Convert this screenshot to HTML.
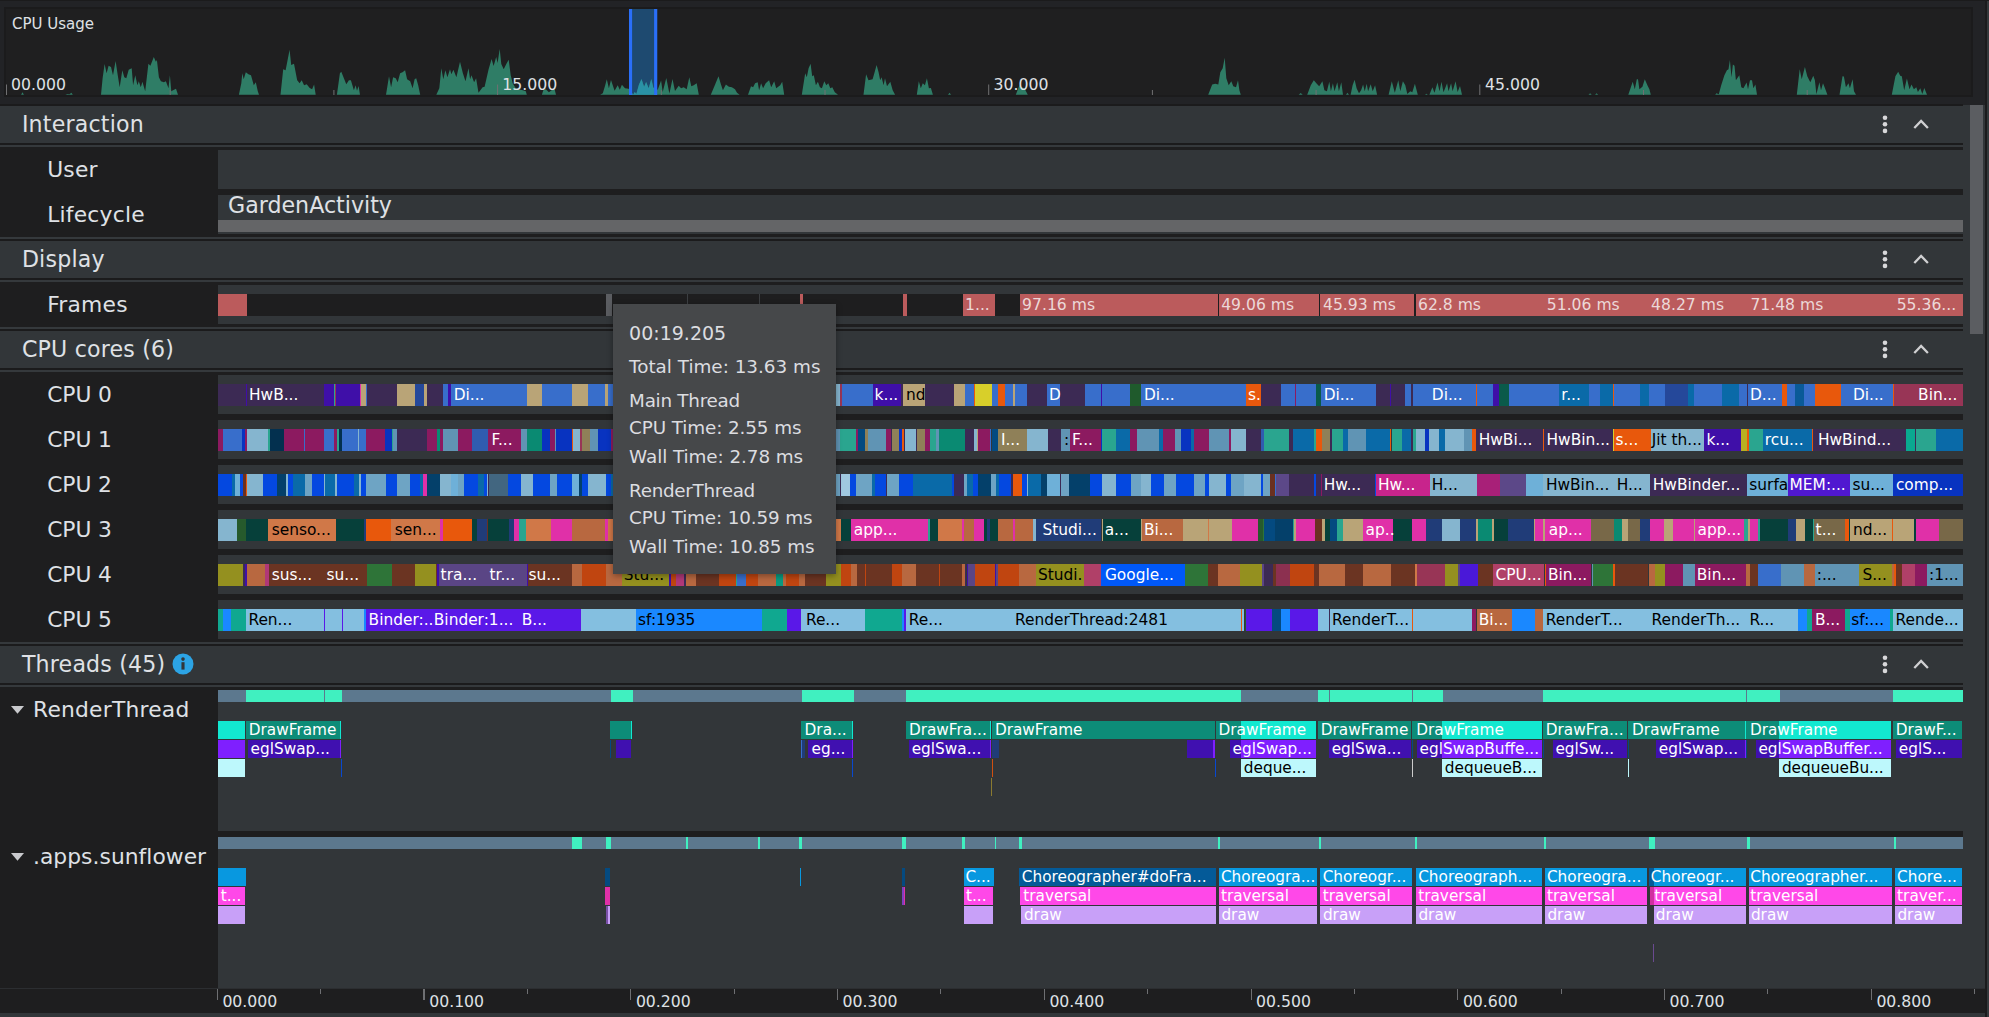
<!DOCTYPE html><html><head><meta charset="utf-8"><title>CPU Profiler</title><style>
*{box-sizing:border-box;margin:0;padding:0}
html,body{width:1989px;height:1017px;overflow:hidden;background:#222326}
body{position:relative;font-family:"DejaVu Sans","Liberation Sans",sans-serif;color:#dfe1e5;font-size:15px}
div,i,b,span,svg{position:absolute;display:block}
i{top:0;height:100%}
b{font-weight:normal;white-space:pre;line-height:22px;height:22px;top:0;font-size:15.4px;color:#fff}
b.k{color:#000}
.hdr{left:0;width:1970px;height:37px;background:#323639}
.hdr span{left:21.9px;top:-.2px;line-height:36px;font-size:22.1px;letter-spacing:.2px;white-space:pre}
.row{left:0;width:1963px;height:45px;background:#1e1e1f}
.row>span{left:47.2px;top:0;transform:translateY(.6px);line-height:44px;font-size:21.8px;letter-spacing:.22px;white-space:pre}
.trk{left:218px;top:3px;width:1745px;height:39px;background:#323639;overflow:hidden}
.bar{left:-218px;top:9px;width:1963px;height:22px}
.ln{left:0;width:1963px;height:2px}
.ic{top:0;left:0}
.tr{left:-218px;width:1963px;height:18px}
.tr b{line-height:18px;height:18px;font-size:15.3px}
.fr b{font-size:15.6px;color:#ecd8d8}
.st{left:-218px;top:0;width:1963px;height:12px}
.ax b{color:#dfe1e5;font-size:15.7px;line-height:20px;height:20px}
.tip{left:612.5px;top:304px;width:223.5px;height:270px;background:#46484a;box-shadow:0 2px 6px rgba(0,0,0,.35)}
.tip span{left:16.6px;white-space:pre;font-size:18.35px;line-height:24px;color:#dcdde0}
</style></head><body>
<div style="left:0;top:0;width:1989px;height:1px;background:#1b1b1c"></div>
<div style="left:4px;top:7px;width:1969px;height:90px;background:#1f1f20;border:2px solid #1b1b1c"></div>
<svg style="left:0;top:0" width="1989" height="100" viewBox="0 0 1989 100">
<defs><clipPath id="sel"><rect x="632" y="9" width="22" height="86"/></clipPath></defs>
<rect x="629" y="9" width="28.2" height="86" fill="#1e4a70"/>
<path fill="#2f7d66" d="M21.1 94.7 L22.5 92.3 L23.9 94.7Z M65.4 94.7 L67.4 93.9 L69.4 94.3 L71.4 92.7 L72.8 94.7Z M101 94.7 L102.6 78.2 L104.6 64.1 L106.6 73.2 L108.6 65.7 L111 67.1 L113 75.2 L115.6 61.1 L117.6 74.2 L119.7 87.3 L122.3 70.2 L124.3 77.2 L126.3 78.2 L128.7 69.8 L131.7 68.2 L133.1 85.2 L135.3 75.2 L137.4 85.2 L138.8 81.2 L140.8 87.3 L142.4 81.8 L145.2 91.3 L148.4 63.7 L150.4 65.7 L153.8 57.1 L155.9 61.7 L156.9 60.1 L158.9 77.2 L160.9 81.2 L163.9 82.2 L165.9 81.2 L168.5 88.3 L169.9 75.2 L171.3 91.3 L173 90.3 L176 88.7 L178 94.7Z M238.9 94.7 L241.3 83.2 L242.3 73.2 L243.7 79.2 L245.8 72.2 L248.4 74.2 L251 75.2 L253.8 85.2 L255.8 82.2 L257.8 91.3 L259 94.7Z M280.5 94.7 L283.2 69.2 L285.6 70.2 L289.6 49.7 L291.2 65.1 L294 63.7 L297.2 80.2 L299.6 83.2 L301.7 80.2 L304.1 85.2 L306.7 84.2 L309.7 87.9 L312.1 89.3 L314.1 84.6 L315.7 94.7Z M336.9 94.7 L339.9 73.2 L341.3 71.8 L343.9 78.2 L346.3 84.2 L348.9 80.2 L350.9 80.2 L353.9 90.3 L355.6 85.2 L357 90.7 L358.6 85.9 L360 94.7Z M386 94.7 L389 76.2 L391.1 87.3 L393.1 77.2 L395.7 78.2 L397.7 82.2 L400.1 73.2 L402.5 72.2 L405.1 70.2 L407.1 79.2 L410.2 81.2 L412.6 88.3 L414.6 79.2 L416.2 78.2 L418.2 85.2 L420.2 94.7Z M436.3 94.7 L439.3 88.3 L441.3 68.2 L443.3 79.2 L445.4 70.2 L447.4 77.2 L450 69.2 L451.4 74.2 L453.4 69.8 L456.4 77.2 L460 61.7 L462.9 73.2 L465.5 81.2 L468.5 68.2 L470.1 79.2 L471.5 75.2 L474.1 82.2 L476.1 78.2 L478.5 92.7 L482.6 87.3 L484.6 86.7 L488.6 69.2 L491.6 59.1 L493.6 66.1 L496.2 57.1 L497.6 63.1 L499.7 49 L501.3 64.1 L503.7 69.2 L506.3 64.1 L508.7 59.7 L510.7 75.2 L512.7 83.2 L515.7 88.3 L518.8 89.3 L522.8 90.3 L525.8 91.3 L526.8 94.7Z M541.9 94.7 L543.3 90.3 L545.9 89.3 L548.9 92.3 L551.9 89.9 L554.6 89.3 L556 94.7Z M600.2 94.7 L602.8 93.3 L605.2 85.2 L606.8 79.2 L608.9 88.3 L611 80 L614.6 90.8 L617.7 85.2 L619.8 89.8 L621.9 84.7 L625 88.3 L628.6 88.8 L633.2 94.5 L634.8 91.9 L636.3 94 L638.9 84.7 L641.5 79 L644.1 86.7 L646.1 82.1 L648.7 88.3 L651.3 79 L653.4 87.8 L657.7 89.8 L661.1 80.5 L662.7 91.9 L666.3 78 L669.4 93.4 L672.5 79 L675 90.9 L678.7 85.7 L681.1 88.3 L683.7 87.3 L686.7 89.3 L689.3 77.2 L691.3 86.3 L693.7 85.2 L696.7 83.2 L698.8 94.7Z M710.8 94.7 L714.8 85.2 L718.5 76.2 L720.9 84.2 L722.9 90.3 L725.9 84.6 L728.9 86.7 L731.9 87.3 L735 89.3 L737 92.7 L739.6 94.7Z M748 94.7 L751 86.3 L753.1 87.3 L755.1 83.2 L757.7 82.2 L759.1 90.3 L761.1 83.2 L763.1 88.3 L765.7 83.2 L769.1 80.2 L771.2 87.3 L774.2 81.2 L776.2 88.3 L780.2 85.2 L782.2 81.8 L784.2 94.7Z M801.8 94.7 L805.2 73.2 L806.8 77.2 L808.6 68.2 L810.6 63.7 L812.2 76.2 L813.8 75.2 L815.9 85.2 L817.9 81.8 L819.9 87.3 L821.9 88.3 L824.3 81.2 L826.3 85.2 L828.3 83.2 L830.3 88.3 L832.3 87.3 L834.8 92.3 L838 94.7Z M863.5 94.7 L866.1 74.2 L868.5 80.2 L872.6 79.2 L874.6 72.2 L876.6 65.1 L878.6 72.2 L880.2 80.2 L881.6 77.2 L883.6 85.2 L885 78.2 L887 86.3 L890.3 81.8 L892.7 90.3 L895.1 94.7Z M916.8 94.7 L918.8 81.2 L920.8 88.3 L922.8 83.2 L924.9 85.2 L926.9 78.2 L928.9 88.3 L930.9 87.9 L932.9 94.7Z M948 94.7 L949.6 92.7 L951 94.7Z M1015.8 94.7 L1019.4 85.2 L1021.8 87.3 L1024.4 88.3 L1027.8 94.7Z M1208.2 94.7 L1212.2 84.6 L1215.2 83.8 L1218.3 84.6 L1220.3 72.2 L1222.7 68.2 L1224.7 57.7 L1226.3 78.2 L1228.7 85.2 L1231.3 81.2 L1233.3 86.3 L1236 87.3 L1238 80.2 L1239.4 90.3 L1240.8 94.7Z M1298.7 94.7 L1300.7 93.1 L1302.7 94.7Z M1307.2 94.7 L1310.8 85.2 L1313.8 80.2 L1316.8 83.8 L1319.2 86.3 L1322.4 81.2 L1324.4 90.3 L1326.9 91.3 L1329.3 81.8 L1330.9 91.3 L1332.9 83.2 L1334.5 91.3 L1337.3 82.2 L1338.9 91.3 L1341.3 82.2 L1343 94.7Z M1346 94.7 L1347.4 92.7 L1349 94.7Z M1350.6 94.7 L1352.6 85.2 L1354.6 79.8 L1356.6 88.3 L1359 93.3 L1361.1 90.3 L1363.1 84.6 L1364.7 91.3 L1366.7 83.8 L1368.1 91.3 L1370.7 84.2 L1372.7 91.3 L1375.1 85.2 L1377.1 94.7Z M1388.6 94.7 L1391.8 81.2 L1394.8 92.7 L1398.3 80.2 L1400.3 91.3 L1402.9 81.2 L1405.3 85.2 L1407.3 93.9 L1410.3 91.3 L1412.3 92.3 L1414.9 83.8 L1417.8 94.7Z M1425 94.7 L1426.4 93.7 L1427.8 94.7Z M1429.4 94.7 L1432.4 87.3 L1434.5 92.7 L1437.5 82.6 L1439.5 91.3 L1441.5 81.8 L1443.5 92.3 L1447.1 83.2 L1448.5 91.3 L1451.1 83.2 L1452.6 91.3 L1455.6 81.2 L1457.6 91.9 L1460 85.9 L1462 94.7Z M1588.5 94.7 L1590.1 93.3 L1591.7 94.7Z M1595.1 94.7 L1596.5 93.3 L1598.2 94.7Z M1628.3 94.7 L1632.7 81.8 L1634.8 89.3 L1636.8 79.2 L1638 79.2 L1639.4 89.3 L1642.4 86.7 L1644.8 79.2 L1647.4 85.2 L1649.4 89.3 L1650.8 94.7Z M1715.2 94.7 L1716.4 93.3 L1718.8 94.3 L1721.2 85.2 L1724.4 75.2 L1726.9 70.2 L1728.5 69.2 L1729.9 60.1 L1731.5 77.2 L1732.9 64.5 L1734.5 65.7 L1735.9 80.2 L1739.3 75.2 L1741.3 87.3 L1743.4 88.3 L1746.6 82.6 L1748 89.3 L1750 80.2 L1752 80.2 L1753.4 88.3 L1755.4 84.6 L1757 94.7Z M1796.8 94.7 L1799.7 69.2 L1801.7 79.2 L1804.9 67.1 L1807.3 76.2 L1810.3 82.2 L1813.3 75.8 L1814.9 80.2 L1816.4 94.3 L1819.4 82.2 L1821 90.3 L1823 83.2 L1825 88.3 L1827.4 94.7Z M1839.5 94.7 L1842.5 76.2 L1843.9 76.6 L1845.9 87.3 L1848.5 83.2 L1849.9 88.3 L1852.6 79.2 L1854 91.3 L1856 94.7Z M1891.8 94.7 L1895.4 76.2 L1898.2 71.8 L1900.2 75.8 L1901.8 76.2 L1904.2 90.3 L1906.9 78.6 L1909.5 89.3 L1911.5 84.6 L1913.9 89.3 L1916.3 87.3 L1917.9 91.9 L1920.3 88.3 L1922.3 93.9 L1924.3 87.9 L1927 94.7Z"/>
<path clip-path="url(#sel)" fill="#2a92a6" d="M600.2 94.7 L602.8 93.3 L605.2 85.2 L606.8 79.2 L608.9 88.3 L611 80 L614.6 90.8 L617.7 85.2 L619.8 89.8 L621.9 84.7 L625 88.3 L628.6 88.8 L633.2 94.5 L634.8 91.9 L636.3 94 L638.9 84.7 L641.5 79 L644.1 86.7 L646.1 82.1 L648.7 88.3 L651.3 79 L653.4 87.8 L657.7 89.8 L661.1 80.5 L662.7 91.9 L666.3 78 L669.4 93.4 L672.5 79 L675 90.9 L678.7 85.7 L681.1 88.3 L683.7 87.3 L686.7 89.3 L689.3 77.2 L691.3 86.3 L693.7 85.2 L696.7 83.2 L698.8 94.7Z"/>
<rect x="629" y="9" width="3.1" height="86" fill="#2a6ff8"/><rect x="654.1" y="9" width="3.1" height="86" fill="#2a6ff8"/>
<rect x="6" y="84.5" width="1" height="10.5" fill="#707072"/>
<rect x="169.7" y="90" width="1" height="5" fill="#707072"/>
<rect x="333.4" y="90" width="1" height="5" fill="#707072"/>
<rect x="497.1" y="84.5" width="1" height="10.5" fill="#707072"/>
<rect x="660.8" y="90" width="1" height="5" fill="#707072"/>
<rect x="824.5" y="90" width="1" height="5" fill="#707072"/>
<rect x="988.2" y="84.5" width="1" height="10.5" fill="#707072"/>
<rect x="1151.9" y="90" width="1" height="5" fill="#707072"/>
<rect x="1315.6" y="90" width="1" height="5" fill="#707072"/>
<rect x="1479.3" y="84.5" width="1" height="10.5" fill="#707072"/>
<rect x="1643" y="90" width="1" height="5" fill="#707072"/>
<rect x="1806.7" y="90" width="1" height="5" fill="#707072"/>
</svg>
<div class="ax" style="left:0;top:0;width:1989px;height:100px">
<b style="left:12px;top:14px;font-size:15px">CPU Usage</b>
<b style="left:11px;top:75.3px">00.000</b>
<b style="left:502.3px;top:75.3px">15.000</b>
<b style="left:993.6px;top:75.3px">30.000</b>
<b style="left:1485px;top:75.3px">45.000</b>
</div>
<div style="left:0;top:103.5px;width:1963px;height:2.5px;background:#1b1b1c"></div>
<div style="left:1985px;top:0;width:2px;height:1017px;background:#1b1b1c"></div>
<div style="left:1987px;top:1px;width:2px;height:1016px;background:#35393c"></div>
<div style="left:1963px;top:104.5px;width:22px;height:883.5px;background:#323639"></div>
<div style="left:1970px;top:105px;width:13px;height:229px;background:#5b5d61"></div>
<div class="hdr" style="top:106px"><span>Interaction</span><svg class="ic" width="1970" height="37" viewBox="0 0 1970 37"><circle cx="1885" cy="11.7" r="2.3" fill="#d8d8da"/><circle cx="1885" cy="18.3" r="2.3" fill="#d8d8da"/><circle cx="1885" cy="24.9" r="2.3" fill="#d8d8da"/><path d="M1914.3 22 L1921.1 15 L1927.9 22" fill="none" stroke="#d0d0d2" stroke-width="2.3"/></svg></div>
<div class="ln" style="top:143px;background:#1b1b1c"></div>
<div class="ln" style="top:145px;background:#35393c"></div>
<div class="row" style="top:147px"><span>User</span><div class="trk"></div></div>
<div class="row" style="top:192px"><span>Lifecycle</span><div class="trk"><b style="left:10px;top:-5.4px;font-size:22.15px;line-height:30px;height:30px;color:#dfe1e5">GardenActivity</b><div style="left:0;top:25px;width:1745px;height:12px;background:#646567"></div></div></div>
<div class="ln" style="top:237px;background:#35393c"></div>
<div class="ln" style="top:239px;background:#1b1b1c"></div>
<div class="hdr" style="top:241px"><span>Display</span><svg class="ic" width="1970" height="37" viewBox="0 0 1970 37"><circle cx="1885" cy="11.7" r="2.3" fill="#d8d8da"/><circle cx="1885" cy="18.3" r="2.3" fill="#d8d8da"/><circle cx="1885" cy="24.9" r="2.3" fill="#d8d8da"/><path d="M1914.3 22 L1921.1 15 L1927.9 22" fill="none" stroke="#d0d0d2" stroke-width="2.3"/></svg></div>
<div class="ln" style="top:278px;background:#1b1b1c"></div>
<div class="ln" style="top:280px;background:#35393c"></div>
<div class="row" style="top:282px"><span>Frames</span><div class="trk"><div class="bar fr"><i style="left:218px;width:29px;background:#bb5b5c"></i><i style="left:247px;width:716px;background:#1e1e1f"></i><i style="left:606.3px;width:5.7px;background:#5b5d61"></i><i style="left:687px;width:1px;background:#3c3f42"></i><i style="left:759px;width:1px;background:#3c3f42"></i><i style="left:800.4px;width:2.3px;background:#bb5b5c"></i><i style="left:903.3px;width:3.4px;background:#bb5b5c"></i><i style="left:962.9px;width:32.1px;background:#bb5b5c"></i><i style="left:995px;width:24.7px;background:#1e1e1f"></i><i style="left:1019.7px;width:198.3px;background:#bb5b5c"></i><i style="left:1218px;width:1.3px;background:#1e1e1f"></i><i style="left:1219.3px;width:99.5px;background:#bb5b5c"></i><i style="left:1318.8px;width:1.2px;background:#1e1e1f"></i><i style="left:1320px;width:94.3px;background:#bb5b5c"></i><i style="left:1414.3px;width:1.3px;background:#1e1e1f"></i><i style="left:1415.6px;width:547.4px;background:#bb5b5c"></i><b style="left:965px">1...</b><b style="left:1022.1px">97.16 ms</b><b style="left:1221.2px">49.06 ms</b><b style="left:1323px">45.93 ms</b><b style="left:1418px">62.8 ms</b><b style="left:1546.8px">51.06 ms</b><b style="left:1651.1px">48.27 ms</b><b style="left:1750.4px">71.48 ms</b><b style="left:1896.7px">55.36...</b></div></div></div>
<div class="ln" style="top:327px;background:#35393c"></div>
<div class="ln" style="top:329px;background:#1b1b1c"></div>
<div class="hdr" style="top:331px"><span>CPU cores (6)</span><svg class="ic" width="1970" height="37" viewBox="0 0 1970 37"><circle cx="1885" cy="11.7" r="2.3" fill="#d8d8da"/><circle cx="1885" cy="18.3" r="2.3" fill="#d8d8da"/><circle cx="1885" cy="24.9" r="2.3" fill="#d8d8da"/><path d="M1914.3 22 L1921.1 15 L1927.9 22" fill="none" stroke="#d0d0d2" stroke-width="2.3"/></svg></div>
<div class="ln" style="top:368px;background:#1b1b1c"></div>
<div class="ln" style="top:370px;background:#35393c"></div>
<div class="row" style="top:372px"><span style="letter-spacing:-.08px">CPU 0</span><div class="trk"><div class="bar"><i style="left:218px;width:28.2px;background:#3c2a54"></i><i style="left:246.2px;width:1px;background:#3f0fa8"></i><i style="left:247.2px;width:76.8px;background:#3c2a54"></i><i style="left:324px;width:9.7px;background:#3f0fa8"></i><i style="left:333.7px;width:1px;background:#2aa58f"></i><i style="left:334.7px;width:1px;background:#983556"></i><i style="left:335.7px;width:24.5px;background:#3f0fa8"></i><i style="left:360.2px;width:1.2px;background:#e030a8"></i><i style="left:361.4px;width:4.4px;background:#b9a477"></i><i style="left:365.8px;width:1.2px;background:#386ecb"></i><i style="left:367px;width:30px;background:#3c2a54"></i><i style="left:397px;width:18.1px;background:#b9a477"></i><i style="left:415.1px;width:8.6px;background:#25489a"></i><i style="left:423.7px;width:3.1px;background:#b9a477"></i><i style="left:426.8px;width:16px;background:#3c2a54"></i><i style="left:442.8px;width:5.1px;background:#386ecb"></i><i style="left:447.9px;width:2.8px;background:#3f0fa8"></i><i style="left:450.7px;width:76.4px;background:#386ecb"></i><i style="left:527.1px;width:15.1px;background:#b9a477"></i><i style="left:542.2px;width:29.8px;background:#386ecb"></i><i style="left:572px;width:16px;background:#b9a477"></i><i style="left:588px;width:16.7px;background:#386ecb"></i><i style="left:604.7px;width:3.1px;background:#b9a477"></i><i style="left:607.8px;width:228.5px;background:#386ecb"></i><i style="left:836.3px;width:3.9px;background:#85b5cf"></i><i style="left:840.2px;width:1.6px;background:#983556"></i><i style="left:841.8px;width:31.2px;background:#386ecb"></i><i style="left:873px;width:28.3px;background:#3f0fa8"></i><i style="left:901.3px;width:1.6px;background:#3c2a54"></i><i style="left:902.9px;width:22.1px;background:#b9a477"></i><i style="left:925px;width:29px;background:#3c2a54"></i><i style="left:954px;width:11px;background:#b9a477"></i><i style="left:965px;width:9.3px;background:#386ecb"></i><i style="left:974.3px;width:0.9px;background:#e8580c"></i><i style="left:975.2px;width:16.8px;background:#d8cf2a"></i><i style="left:992px;width:5.9px;background:#386ecb"></i><i style="left:997.9px;width:7px;background:#e8580c"></i><i style="left:1004.9px;width:7.9px;background:#386ecb"></i><i style="left:1012.8px;width:2.2px;background:#b9a477"></i><i style="left:1015px;width:11.8px;background:#386ecb"></i><i style="left:1026.8px;width:19.9px;background:#3c2a54"></i><i style="left:1046.7px;width:13.3px;background:#386ecb"></i><i style="left:1060px;width:25px;background:#3c2a54"></i><i style="left:1085px;width:15.8px;background:#386ecb"></i><i style="left:1100.8px;width:1.2px;background:#3f0fa8"></i><i style="left:1102px;width:28.2px;background:#386ecb"></i><i style="left:1130.2px;width:10.8px;background:#1f5a2c"></i><i style="left:1141px;width:104.8px;background:#386ecb"></i><i style="left:1245.8px;width:15.2px;background:#e8580c"></i><i style="left:1261px;width:19.9px;background:#3c2a54"></i><i style="left:1280.9px;width:14px;background:#386ecb"></i><i style="left:1294.9px;width:0.9px;background:#8c1a60"></i><i style="left:1295.8px;width:20.1px;background:#386ecb"></i><i style="left:1315.9px;width:5px;background:#0a5a4a"></i><i style="left:1320.9px;width:55px;background:#386ecb"></i><i style="left:1375.9px;width:14.1px;background:#3c2a54"></i><i style="left:1390px;width:1px;background:#3f0fa8"></i><i style="left:1391px;width:14px;background:#3c2a54"></i><i style="left:1405px;width:5.7px;background:#386ecb"></i><i style="left:1410.7px;width:2.3px;background:#3c2a54"></i><i style="left:1413px;width:62.9px;background:#386ecb"></i><i style="left:1475.9px;width:0.9px;background:#e8580c"></i><i style="left:1476.8px;width:16.1px;background:#386ecb"></i><i style="left:1492.9px;width:6.1px;background:#3f0fa8"></i><i style="left:1499px;width:9.9px;background:#0a5a4a"></i><i style="left:1508.9px;width:50px;background:#386ecb"></i><i style="left:1558.9px;width:30.1px;background:#0a6aa8"></i><i style="left:1589px;width:10.9px;background:#386ecb"></i><i style="left:1599.9px;width:13.1px;background:#0a6aa8"></i><i style="left:1613px;width:0.9px;background:#e8580c"></i><i style="left:1613.9px;width:26.2px;background:#386ecb"></i><i style="left:1640.1px;width:8.9px;background:#0a6aa8"></i><i style="left:1649px;width:16px;background:#386ecb"></i><i style="left:1665px;width:22.9px;background:#25489a"></i><i style="left:1687.9px;width:5.9px;background:#0a6aa8"></i><i style="left:1693.8px;width:28.1px;background:#386ecb"></i><i style="left:1721.9px;width:16.9px;background:#0a6aa8"></i><i style="left:1738.8px;width:7.9px;background:#386ecb"></i><i style="left:1746.7px;width:1.2px;background:#3c2a54"></i><i style="left:1747.9px;width:33.9px;background:#386ecb"></i><i style="left:1781.8px;width:5px;background:#e8580c"></i><i style="left:1786.8px;width:7.9px;background:#386ecb"></i><i style="left:1794.7px;width:9.1px;background:#0a5a98"></i><i style="left:1803.8px;width:10.8px;background:#386ecb"></i><i style="left:1814.6px;width:26.5px;background:#e8580c"></i><i style="left:1841.1px;width:52px;background:#386ecb"></i><i style="left:1893.1px;width:0.9px;background:#e8580c"></i><i style="left:1894px;width:69px;background:#983556"></i><b style="left:249px">HwB...</b><b style="left:453.7px">Di...</b><b style="left:874.6px">k...</b><b class="k" style="left:905.9px">nd</b><b style="left:1048.9px">D</b><b style="left:1143.9px">Di...</b><b style="left:1247.9px">s.</b><b style="left:1323.7px">Di...</b><b style="left:1431.8px">Di...</b><b style="left:1561.3px">r...</b><b style="left:1750px">D...</b><b style="left:1852.9px">Di...</b><b style="left:1918.1px">Bin...</b></div></div></div>
<div class="row" style="top:417px"><span style="letter-spacing:-.08px">CPU 1</span><div class="trk"><div class="bar"><i style="left:218px;width:5px;background:#8c1a60"></i><i style="left:223px;width:19.1px;background:#386ecb"></i><i style="left:242.1px;width:3.1px;background:#0833c0"></i><i style="left:245.2px;width:1.6px;background:#8c1a60"></i><i style="left:246.8px;width:21.5px;background:#85b5cf"></i><i style="left:268.3px;width:2px;background:#2aa58f"></i><i style="left:270.3px;width:13.7px;background:#03304f"></i><i style="left:284px;width:20.1px;background:#8c1a60"></i><i style="left:304.1px;width:0.8px;background:#386ecb"></i><i style="left:304.9px;width:19.1px;background:#8c1a60"></i><i style="left:324px;width:10px;background:#386ecb"></i><i style="left:334px;width:2.7px;background:#8c1a60"></i><i style="left:336.7px;width:2.4px;background:#2aa58f"></i><i style="left:339.1px;width:2.6px;background:#03304f"></i><i style="left:341.7px;width:16.5px;background:#386ecb"></i><i style="left:358.2px;width:0.8px;background:#85b5cf"></i><i style="left:359px;width:6.8px;background:#386ecb"></i><i style="left:365.8px;width:19.1px;background:#8c1a60"></i><i style="left:384.9px;width:7.1px;background:#0833c0"></i><i style="left:392px;width:1px;background:#2aa58f"></i><i style="left:393px;width:4px;background:#6094b4"></i><i style="left:397px;width:29.8px;background:#3c2a54"></i><i style="left:426.8px;width:10px;background:#8c1a60"></i><i style="left:436.8px;width:3px;background:#0a8a72"></i><i style="left:439.8px;width:3px;background:#8c1a60"></i><i style="left:442.8px;width:15.1px;background:#6094b4"></i><i style="left:457.9px;width:14.1px;background:#8c1a60"></i><i style="left:472px;width:15.9px;background:#305cb0"></i><i style="left:487.9px;width:32.8px;background:#8c1a60"></i><i style="left:520.7px;width:6.4px;background:#6094b4"></i><i style="left:527.1px;width:14.9px;background:#0a8a72"></i><i style="left:542px;width:7.8px;background:#0833c0"></i><i style="left:549.8px;width:5.1px;background:#8c1a60"></i><i style="left:554.9px;width:1.2px;background:#6094b4"></i><i style="left:556.1px;width:15.5px;background:#0833c0"></i><i style="left:571.6px;width:1px;background:#e8580c"></i><i style="left:572.6px;width:7.4px;background:#85b5cf"></i><i style="left:580px;width:2px;background:#983556"></i><i style="left:582px;width:8px;background:#8f8058"></i><i style="left:590px;width:7.7px;background:#6094b4"></i><i style="left:597.7px;width:13.1px;background:#0833c0"></i><i style="left:610.8px;width:225.5px;background:#8c1a60"></i><i style="left:836.3px;width:3.4px;background:#6094b4"></i><i style="left:839.7px;width:16.3px;background:#2aa58f"></i><i style="left:856px;width:1.6px;background:#8c1a60"></i><i style="left:857.6px;width:7.5px;background:#044a80"></i><i style="left:865.1px;width:2.9px;background:#8f8058"></i><i style="left:868px;width:18.1px;background:#6094b4"></i><i style="left:886.1px;width:5px;background:#8c1a60"></i><i style="left:891.1px;width:1.1px;background:#3c2a54"></i><i style="left:892.2px;width:6.8px;background:#8f8058"></i><i style="left:899px;width:3px;background:#0833c0"></i><i style="left:902px;width:2.2px;background:#e8580c"></i><i style="left:904.2px;width:1.1px;background:#3c2a54"></i><i style="left:905.3px;width:10.7px;background:#85b5cf"></i><i style="left:916px;width:1px;background:#3c2a54"></i><i style="left:917px;width:8px;background:#8f8058"></i><i style="left:925px;width:5px;background:#8c1a60"></i><i style="left:930px;width:5.9px;background:#2aa58f"></i><i style="left:935.9px;width:3.1px;background:#6094b4"></i><i style="left:939px;width:26.1px;background:#0a8a72"></i><i style="left:965.1px;width:8.6px;background:#3c2a54"></i><i style="left:973.7px;width:3.4px;background:#85b5cf"></i><i style="left:977.1px;width:1.1px;background:#b9a477"></i><i style="left:978.2px;width:12px;background:#8c1a60"></i><i style="left:990.2px;width:1.3px;background:#386ecb"></i><i style="left:991.5px;width:6.4px;background:#044a80"></i><i style="left:997.9px;width:28.9px;background:#8f8058"></i><i style="left:1026.8px;width:21.1px;background:#85b5cf"></i><i style="left:1047.9px;width:12.9px;background:#3c2a54"></i><i style="left:1060.8px;width:9px;background:#6094b4"></i><i style="left:1069.8px;width:31.2px;background:#8c1a60"></i><i style="left:1101px;width:1.4px;background:#0833c0"></i><i style="left:1102.4px;width:13.8px;background:#2aa58f"></i><i style="left:1116.2px;width:13.6px;background:#0a6aa8"></i><i style="left:1129.8px;width:7.2px;background:#8c1a60"></i><i style="left:1137px;width:21.7px;background:#6094b4"></i><i style="left:1158.7px;width:4.3px;background:#0a6aa8"></i><i style="left:1163px;width:11.6px;background:#8c1a60"></i><i style="left:1174.6px;width:6.5px;background:#6094b4"></i><i style="left:1181.1px;width:9.8px;background:#0833c0"></i><i style="left:1190.9px;width:2.9px;background:#0a6aa8"></i><i style="left:1193.8px;width:15.2px;background:#8c1a60"></i><i style="left:1209px;width:20.3px;background:#6094b4"></i><i style="left:1229.3px;width:1.6px;background:#8c1a60"></i><i style="left:1230.9px;width:14.9px;background:#85b5cf"></i><i style="left:1245.8px;width:15.2px;background:#3c2a54"></i><i style="left:1261px;width:2.9px;background:#305cb0"></i><i style="left:1263.9px;width:25.3px;background:#2aa58f"></i><i style="left:1289.2px;width:3.4px;background:#3c2a54"></i><i style="left:1292.6px;width:21.5px;background:#0a6aa8"></i><i style="left:1314.1px;width:1.8px;background:#2aa58f"></i><i style="left:1315.9px;width:6.1px;background:#e8580c"></i><i style="left:1322px;width:8px;background:#8f8058"></i><i style="left:1330px;width:1.5px;background:#3c2a54"></i><i style="left:1331.5px;width:11.4px;background:#2aa58f"></i><i style="left:1342.9px;width:5.1px;background:#0a6aa8"></i><i style="left:1348px;width:17.7px;background:#6094b4"></i><i style="left:1365.7px;width:24.2px;background:#0a6aa8"></i><i style="left:1389.9px;width:1.6px;background:#e8580c"></i><i style="left:1391.5px;width:10.4px;background:#2aa58f"></i><i style="left:1401.9px;width:9.1px;background:#0a6aa8"></i><i style="left:1411px;width:1.5px;background:#3c2a54"></i><i style="left:1412.5px;width:3.4px;background:#2aa58f"></i><i style="left:1415.9px;width:9.1px;background:#85b5cf"></i><i style="left:1425px;width:4px;background:#0833c0"></i><i style="left:1429px;width:9.6px;background:#85b5cf"></i><i style="left:1438.6px;width:6.1px;background:#0a6aa8"></i><i style="left:1444.7px;width:19.4px;background:#85b5cf"></i><i style="left:1464.1px;width:7.9px;background:#6094b4"></i><i style="left:1472px;width:3.9px;background:#e8580c"></i><i style="left:1475.9px;width:67.1px;background:#3c2a54"></i><i style="left:1543px;width:1px;background:#e8580c"></i><i style="left:1544px;width:68.8px;background:#3c2a54"></i><i style="left:1612.8px;width:1.1px;background:#d8cf2a"></i><i style="left:1613.9px;width:37.3px;background:#e8580c"></i><i style="left:1651.2px;width:52.8px;background:#85b5cf"></i><i style="left:1704px;width:36.9px;background:#3f0fa8"></i><i style="left:1740.9px;width:6.3px;background:#b8b020"></i><i style="left:1747.2px;width:1.8px;background:#e8580c"></i><i style="left:1749px;width:14px;background:#2aa58f"></i><i style="left:1763px;width:48.7px;background:#0a6aa8"></i><i style="left:1811.7px;width:1.1px;background:#e8580c"></i><i style="left:1812.8px;width:92.8px;background:#3c2a54"></i><i style="left:1905.6px;width:9px;background:#0aa890"></i><i style="left:1914.6px;width:1.4px;background:#3c2a54"></i><i style="left:1916px;width:20.1px;background:#2aa58f"></i><i style="left:1936.1px;width:26.9px;background:#0a6aa8"></i><b style="left:491.5px">F...</b><b style="left:1000.9px">I...</b><b class="k" style="left:1063.9px">:</b><b style="left:1071.9px">F...</b><b style="left:1478.7px">HwBi...</b><b style="left:1546.5px">HwBin...</b><b style="left:1615.6px">s...</b><b class="k" style="left:1651.8px">Jit th...</b><b style="left:1706.4px">k...</b><b style="left:1764.7px">rcu...</b><b style="left:1817.9px">HwBind...</b></div></div></div>
<div class="row" style="top:462px"><span style="letter-spacing:-.08px">CPU 2</span><div class="trk"><div class="bar"><i style="left:218px;width:14.1px;background:#0448e0"></i><i style="left:232.1px;width:3px;background:#0a6aa8"></i><i style="left:235.1px;width:5px;background:#6eb0d8"></i><i style="left:240.1px;width:3.1px;background:#0448e0"></i><i style="left:243.2px;width:3px;background:#6a3020"></i><i style="left:246.2px;width:1px;background:#e8580c"></i><i style="left:247.2px;width:16.1px;background:#85b5cf"></i><i style="left:263.3px;width:13.6px;background:#0448e0"></i><i style="left:276.9px;width:8.9px;background:#04406a"></i><i style="left:285.8px;width:2px;background:#85b5cf"></i><i style="left:287.8px;width:5.2px;background:#0448e0"></i><i style="left:293px;width:11.9px;background:#0a6aa8"></i><i style="left:304.9px;width:7px;background:#6ea4c4"></i><i style="left:311.9px;width:12.1px;background:#0448e0"></i><i style="left:324px;width:1px;background:#85b5cf"></i><i style="left:325px;width:10.3px;background:#0a6aa8"></i><i style="left:335.3px;width:1.8px;background:#85b5cf"></i><i style="left:337.1px;width:16.7px;background:#0448e0"></i><i style="left:353.8px;width:5.2px;background:#0a6aa8"></i><i style="left:359px;width:2.2px;background:#85b5cf"></i><i style="left:361.2px;width:4.6px;background:#0448e0"></i><i style="left:365.8px;width:20.1px;background:#6ea4c4"></i><i style="left:385.9px;width:11.1px;background:#0448e0"></i><i style="left:397px;width:13.1px;background:#6ea4c4"></i><i style="left:410.1px;width:10px;background:#0448e0"></i><i style="left:420.1px;width:3px;background:#0a6aa8"></i><i style="left:423.1px;width:3.7px;background:#e030a8"></i><i style="left:426.8px;width:13px;background:#04406a"></i><i style="left:439.8px;width:11.1px;background:#85b5cf"></i><i style="left:450.9px;width:7px;background:#6eb0d8"></i><i style="left:457.9px;width:6.1px;background:#6ea4c4"></i><i style="left:464px;width:14px;background:#0448e0"></i><i style="left:478px;width:6.1px;background:#0a6aa8"></i><i style="left:484.1px;width:2.8px;background:#0448e0"></i><i style="left:486.9px;width:1.2px;background:#85b5cf"></i><i style="left:488.1px;width:1px;background:#3c2a54"></i><i style="left:489.1px;width:18.9px;background:#426680"></i><i style="left:508px;width:13.1px;background:#0448e0"></i><i style="left:521.1px;width:11.6px;background:#85b5cf"></i><i style="left:532.7px;width:17.3px;background:#0448e0"></i><i style="left:550px;width:6.9px;background:#6ea4c4"></i><i style="left:556.9px;width:15.1px;background:#0448e0"></i><i style="left:572px;width:7px;background:#6eb0d8"></i><i style="left:579px;width:3px;background:#04406a"></i><i style="left:582px;width:5.6px;background:#0448e0"></i><i style="left:587.6px;width:18.1px;background:#85b5cf"></i><i style="left:605.7px;width:5.1px;background:#0448e0"></i><i style="left:610.8px;width:225.5px;background:#0a6aa8"></i><i style="left:836.3px;width:3.9px;background:#6ea4c4"></i><i style="left:840.2px;width:1.1px;background:#3c2a54"></i><i style="left:841.3px;width:8.6px;background:#a0c8e0"></i><i style="left:849.9px;width:6.1px;background:#0448e0"></i><i style="left:856px;width:16.3px;background:#6ea4c4"></i><i style="left:872.3px;width:2.5px;background:#0a6aa8"></i><i style="left:874.8px;width:11.3px;background:#0448e0"></i><i style="left:886.1px;width:1.1px;background:#3c2a54"></i><i style="left:887.2px;width:11.8px;background:#6ea4c4"></i><i style="left:899px;width:14px;background:#0448e0"></i><i style="left:913px;width:12.5px;background:#0a6aa8"></i><i style="left:925.5px;width:0.5px;background:#85b5cf"></i><i style="left:926px;width:26.2px;background:#0a6aa8"></i><i style="left:952.2px;width:1.8px;background:#0448e0"></i><i style="left:954px;width:9.9px;background:#3c2a54"></i><i style="left:963.9px;width:3px;background:#6ea4c4"></i><i style="left:966.9px;width:6.1px;background:#0a6aa8"></i><i style="left:973px;width:5.2px;background:#0448e0"></i><i style="left:978.2px;width:12.9px;background:#04406a"></i><i style="left:991.1px;width:5.2px;background:#6ea4c4"></i><i style="left:996.3px;width:2.5px;background:#0a6aa8"></i><i style="left:998.8px;width:12.2px;background:#0448e0"></i><i style="left:1011px;width:2.3px;background:#3c2a54"></i><i style="left:1013.3px;width:8.6px;background:#e8580c"></i><i style="left:1021.9px;width:4.9px;background:#0448e0"></i><i style="left:1026.8px;width:1.4px;background:#85b5cf"></i><i style="left:1028.2px;width:12.9px;background:#0a6aa8"></i><i style="left:1041.1px;width:5.6px;background:#04406a"></i><i style="left:1046.7px;width:13.4px;background:#6eb0d8"></i><i style="left:1060.1px;width:1.1px;background:#3c2a54"></i><i style="left:1061.2px;width:8.2px;background:#6ea4c4"></i><i style="left:1069.4px;width:20.8px;background:#04406a"></i><i style="left:1090.2px;width:12px;background:#0448e0"></i><i style="left:1102.2px;width:14px;background:#85b5cf"></i><i style="left:1116.2px;width:14.7px;background:#0448e0"></i><i style="left:1130.9px;width:10.2px;background:#6ea4c4"></i><i style="left:1141.1px;width:10.2px;background:#85b5cf"></i><i style="left:1151.3px;width:12.4px;background:#0448e0"></i><i style="left:1163.7px;width:12px;background:#6ea4c4"></i><i style="left:1175.7px;width:18.1px;background:#0448e0"></i><i style="left:1193.8px;width:11.3px;background:#6ea4c4"></i><i style="left:1205.1px;width:3.9px;background:#0448e0"></i><i style="left:1209px;width:16.9px;background:#85b5cf"></i><i style="left:1225.9px;width:5px;background:#0448e0"></i><i style="left:1230.9px;width:13.1px;background:#6ea4c4"></i><i style="left:1244px;width:17px;background:#85b5cf"></i><i style="left:1261px;width:1.6px;background:#0448e0"></i><i style="left:1262.6px;width:7.4px;background:#6ea4c4"></i><i style="left:1270px;width:4.6px;background:#6a3020"></i><i style="left:1274.6px;width:1.7px;background:#386ecb"></i><i style="left:1276.3px;width:12.9px;background:#5c4888"></i><i style="left:1289.2px;width:24.9px;background:#3c2a54"></i><i style="left:1314.1px;width:1.6px;background:#0448e0"></i><i style="left:1315.7px;width:5.3px;background:#3c2a54"></i><i style="left:1321px;width:1px;background:#8c1a60"></i><i style="left:1322px;width:53.2px;background:#3c2a54"></i><i style="left:1375.2px;width:1.1px;background:#0448e0"></i><i style="left:1376.3px;width:53.7px;background:#c8248c"></i><i style="left:1430px;width:47px;background:#85b5cf"></i><i style="left:1477px;width:22.6px;background:#a82078"></i><i style="left:1499.6px;width:26.5px;background:#5c4888"></i><i style="left:1526.1px;width:16.5px;background:#6eb0d8"></i><i style="left:1542.6px;width:107.5px;background:#85b5cf"></i><i style="left:1650.1px;width:96.6px;background:#3c2a54"></i><i style="left:1746.7px;width:41.2px;background:#6eb0d8"></i><i style="left:1787.9px;width:61.8px;background:#5018d0"></i><i style="left:1849.7px;width:43.4px;background:#6eb0d8"></i><i style="left:1893.1px;width:69.9px;background:#0833c0"></i><b style="left:1323.7px">Hw...</b><b style="left:1378px">Hw...</b><b class="k" style="left:1431.8px">H...</b><b class="k" style="left:1545.9px">HwBin...</b><b class="k" style="left:1616.7px">H...</b><b style="left:1652.8px">HwBinder...</b><b class="k" style="left:1749.3px">surfa</b><b style="left:1789.6px">MEM:...</b><b class="k" style="left:1852.5px">su...</b><b style="left:1895.9px">comp...</b></div></div></div>
<div class="row" style="top:507px"><span style="letter-spacing:-.08px">CPU 3</span><div class="trk"><div class="bar"><i style="left:218px;width:19.1px;background:#85b5cf"></i><i style="left:237.1px;width:9.1px;background:#265a2c"></i><i style="left:246.2px;width:21.7px;background:#06403a"></i><i style="left:267.9px;width:68px;background:#d07848"></i><i style="left:335.9px;width:28.3px;background:#06403a"></i><i style="left:364.2px;width:1.6px;background:#203c78"></i><i style="left:365.8px;width:25.2px;background:#e8580c"></i><i style="left:391px;width:48.8px;background:#d07848"></i><i style="left:439.8px;width:3px;background:#e030a8"></i><i style="left:442.8px;width:29.2px;background:#e8580c"></i><i style="left:472px;width:4.8px;background:#06403a"></i><i style="left:476.8px;width:10.1px;background:#203c78"></i><i style="left:486.9px;width:1.2px;background:#6a3020"></i><i style="left:488.1px;width:20.5px;background:#06403a"></i><i style="left:508.6px;width:5px;background:#203c78"></i><i style="left:513.6px;width:5.1px;background:#e030a8"></i><i style="left:518.7px;width:7px;background:#2aa58f"></i><i style="left:525.7px;width:25.1px;background:#d07848"></i><i style="left:550.8px;width:21.2px;background:#e030a8"></i><i style="left:572px;width:33.2px;background:#b86840"></i><i style="left:605.2px;width:2.6px;background:#e030a8"></i><i style="left:607.8px;width:228.5px;background:#d07848"></i><i style="left:836.3px;width:5px;background:#d07848"></i><i style="left:841.3px;width:9.5px;background:#06403a"></i><i style="left:850.8px;width:77.6px;background:#e030a8"></i><i style="left:928.4px;width:1.6px;background:#2aa58f"></i><i style="left:930px;width:8.1px;background:#06403a"></i><i style="left:938.1px;width:24.3px;background:#d07848"></i><i style="left:962.4px;width:1.6px;background:#e030a8"></i><i style="left:964px;width:9.9px;background:#b86840"></i><i style="left:973.9px;width:9.9px;background:#e030a8"></i><i style="left:983.8px;width:2.8px;background:#06403a"></i><i style="left:986.6px;width:3.1px;background:#203c78"></i><i style="left:989.7px;width:8.2px;background:#06403a"></i><i style="left:997.9px;width:14.9px;background:#b86840"></i><i style="left:1012.8px;width:1.8px;background:#e030a8"></i><i style="left:1014.6px;width:18.3px;background:#b86840"></i><i style="left:1032.9px;width:3px;background:#85b5cf"></i><i style="left:1035.9px;width:65.6px;background:#203c78"></i><i style="left:1101.5px;width:1.4px;background:#b9a477"></i><i style="left:1102.9px;width:37.7px;background:#06403a"></i><i style="left:1140.6px;width:1.2px;background:#b9a477"></i><i style="left:1141.8px;width:41.1px;background:#b86840"></i><i style="left:1182.9px;width:24.9px;background:#b9a477"></i><i style="left:1207.8px;width:1.2px;background:#d07848"></i><i style="left:1209px;width:22.6px;background:#b9a477"></i><i style="left:1231.6px;width:26.7px;background:#e030a8"></i><i style="left:1258.3px;width:4.3px;background:#265a2c"></i><i style="left:1262.6px;width:1.3px;background:#2e7438"></i><i style="left:1263.9px;width:11.3px;background:#044a80"></i><i style="left:1275.2px;width:17.4px;background:#04406a"></i><i style="left:1292.6px;width:1.4px;background:#2aa58f"></i><i style="left:1294px;width:2px;background:#b9a477"></i><i style="left:1296px;width:19.2px;background:#e030a8"></i><i style="left:1315.2px;width:6.8px;background:#6a3020"></i><i style="left:1322px;width:3px;background:#b9a477"></i><i style="left:1325px;width:5px;background:#06403a"></i><i style="left:1330px;width:6.7px;background:#044a80"></i><i style="left:1336.7px;width:6.2px;background:#2aa58f"></i><i style="left:1342.9px;width:19.9px;background:#b9a477"></i><i style="left:1362.8px;width:30.1px;background:#e030a8"></i><i style="left:1392.9px;width:19.2px;background:#06403a"></i><i style="left:1412.1px;width:14px;background:#e030a8"></i><i style="left:1426.1px;width:15.8px;background:#203c78"></i><i style="left:1441.9px;width:18.1px;background:#85b5cf"></i><i style="left:1460px;width:15.9px;background:#203c78"></i><i style="left:1475.9px;width:2.2px;background:#b9a477"></i><i style="left:1478.1px;width:14.3px;background:#0a8a72"></i><i style="left:1492.4px;width:2px;background:#b9a477"></i><i style="left:1494.4px;width:13.6px;background:#06403a"></i><i style="left:1508px;width:25.6px;background:#203c78"></i><i style="left:1533.6px;width:1.6px;background:#b9a477"></i><i style="left:1535.2px;width:7.9px;background:#e030a8"></i><i style="left:1543.1px;width:1.8px;background:#b9a477"></i><i style="left:1544.9px;width:46.4px;background:#e030a8"></i><i style="left:1591.3px;width:23px;background:#786848"></i><i style="left:1614.3px;width:7.5px;background:#0a8a72"></i><i style="left:1621.8px;width:6.3px;background:#b9a477"></i><i style="left:1628.1px;width:12px;background:#786848"></i><i style="left:1640.1px;width:10px;background:#203c78"></i><i style="left:1650.1px;width:14px;background:#e030a8"></i><i style="left:1664.1px;width:9.1px;background:#b9a477"></i><i style="left:1673.2px;width:21px;background:#e030a8"></i><i style="left:1694.2px;width:1.1px;background:#b9a477"></i><i style="left:1695.3px;width:48.5px;background:#e030a8"></i><i style="left:1743.8px;width:4.5px;background:#2aa58f"></i><i style="left:1748.3px;width:1.6px;background:#b9a477"></i><i style="left:1749.9px;width:8.2px;background:#e030a8"></i><i style="left:1758.1px;width:1.5px;background:#2aa58f"></i><i style="left:1759.6px;width:28.3px;background:#06403a"></i><i style="left:1787.9px;width:7.9px;background:#203c78"></i><i style="left:1795.8px;width:9.1px;background:#b9a477"></i><i style="left:1804.9px;width:7.9px;background:#06403a"></i><i style="left:1812.8px;width:1.4px;background:#2aa58f"></i><i style="left:1814.2px;width:30.7px;background:#786848"></i><i style="left:1844.9px;width:4.1px;background:#e8580c"></i><i style="left:1849px;width:1.4px;background:#06403a"></i><i style="left:1850.4px;width:41.6px;background:#b9a477"></i><i style="left:1892px;width:0.9px;background:#e8580c"></i><i style="left:1892.9px;width:21px;background:#b9a477"></i><i style="left:1913.9px;width:1.8px;background:#06403a"></i><i style="left:1915.7px;width:23.3px;background:#e030a8"></i><i style="left:1939px;width:24px;background:#786848"></i><b class="k" style="left:271.7px">senso...</b><b class="k" style="left:394.8px">sen...</b><b style="left:853.8px">app...</b><b style="left:1042.5px">Studi...</b><b style="left:1104.7px">a...</b><b style="left:1143.9px">Bi...</b><b style="left:1365.6px">ap..</b><b style="left:1548.8px">ap...</b><b style="left:1697.6px">app...</b><b style="left:1815.6px">t...</b><b class="k" style="left:1852.9px">nd...</b></div></div></div>
<div class="row" style="top:552px"><span style="letter-spacing:-.08px">CPU 4</span><div class="trk"><div class="bar"><i style="left:218px;width:25.2px;background:#94901f"></i><i style="left:243.2px;width:2px;background:#3c2a54"></i><i style="left:245.2px;width:1.6px;background:#3f0fa8"></i><i style="left:246.8px;width:18.1px;background:#b86840"></i><i style="left:264.9px;width:4px;background:#b03878"></i><i style="left:268.9px;width:97.9px;background:#6b3422"></i><i style="left:366.8px;width:25.2px;background:#2e7438"></i><i style="left:392px;width:22.7px;background:#6b3422"></i><i style="left:414.7px;width:21.1px;background:#94901f"></i><i style="left:435.8px;width:1.4px;background:#6b3422"></i><i style="left:437.2px;width:1.4px;background:#3f0fa8"></i><i style="left:438.6px;width:88.1px;background:#5a4585"></i><i style="left:526.7px;width:1px;background:#3f0fa8"></i><i style="left:527.7px;width:44.3px;background:#6b3422"></i><i style="left:572px;width:10px;background:#b86840"></i><i style="left:582px;width:23.7px;background:#c04510"></i><i style="left:605.7px;width:16.3px;background:#b86840"></i><i style="left:622px;width:47px;background:#94901f"></i><i style="left:669px;width:1.6px;background:#3f0fa8"></i><i style="left:670.6px;width:5.2px;background:#c04510"></i><i style="left:675.8px;width:8.4px;background:#b03878"></i><i style="left:684.2px;width:1.8px;background:#3c2a54"></i><i style="left:686px;width:10.2px;background:#b86840"></i><i style="left:696.2px;width:22.6px;background:#6b3422"></i><i style="left:718.8px;width:16.9px;background:#c04510"></i><i style="left:735.7px;width:1.2px;background:#2aa58f"></i><i style="left:736.9px;width:9px;background:#386ecb"></i><i style="left:745.9px;width:12px;background:#c04510"></i><i style="left:757.9px;width:18.1px;background:#b86840"></i><i style="left:776px;width:6.8px;background:#0a9a80"></i><i style="left:782.8px;width:3.2px;background:#b86840"></i><i style="left:786px;width:13.1px;background:#c04510"></i><i style="left:799.1px;width:5.7px;background:#b86840"></i><i style="left:804.8px;width:21px;background:#6b3422"></i><i style="left:825.8px;width:15.2px;background:#94901f"></i><i style="left:841px;width:9.7px;background:#c04510"></i><i style="left:850.7px;width:6.1px;background:#b86840"></i><i style="left:856.8px;width:7.9px;background:#6b3422"></i><i style="left:864.7px;width:1.1px;background:#c04510"></i><i style="left:865.8px;width:26.1px;background:#6b3422"></i><i style="left:891.9px;width:10.1px;background:#c04510"></i><i style="left:902px;width:14.1px;background:#b86840"></i><i style="left:916.1px;width:22.8px;background:#6b3422"></i><i style="left:938.9px;width:1.1px;background:#c04510"></i><i style="left:940px;width:22px;background:#6b3422"></i><i style="left:962px;width:2.9px;background:#b86840"></i><i style="left:964.9px;width:1.6px;background:#3c2a54"></i><i style="left:966.5px;width:1.6px;background:#3f0fa8"></i><i style="left:968.1px;width:6.8px;background:#5a4585"></i><i style="left:974.9px;width:19.9px;background:#c04510"></i><i style="left:994.8px;width:1.2px;background:#3f0fa8"></i><i style="left:996px;width:1.7px;background:#5a4585"></i><i style="left:997.7px;width:20.9px;background:#c04510"></i><i style="left:1018.6px;width:17.2px;background:#b86840"></i><i style="left:1035.8px;width:48.2px;background:#94901f"></i><i style="left:1084px;width:17px;background:#b04068"></i><i style="left:1101px;width:84.2px;background:#0058f8"></i><i style="left:1185.2px;width:22.6px;background:#2e7438"></i><i style="left:1207.8px;width:10.2px;background:#6b3422"></i><i style="left:1218px;width:21.9px;background:#b86840"></i><i style="left:1239.9px;width:22.2px;background:#94901f"></i><i style="left:1262.1px;width:1.8px;background:#5a4585"></i><i style="left:1263.9px;width:9px;background:#3c2a54"></i><i style="left:1272.9px;width:2.8px;background:#6b3422"></i><i style="left:1275.7px;width:14.2px;background:#8c3050"></i><i style="left:1289.9px;width:24.2px;background:#c04510"></i><i style="left:1314.1px;width:5px;background:#6b3422"></i><i style="left:1319.1px;width:25.6px;background:#b86840"></i><i style="left:1344.7px;width:18.5px;background:#6b3422"></i><i style="left:1363.2px;width:27.8px;background:#b86840"></i><i style="left:1391px;width:23.8px;background:#6b3422"></i><i style="left:1414.8px;width:2.2px;background:#d07848"></i><i style="left:1417px;width:27.9px;background:#983556"></i><i style="left:1444.9px;width:13.3px;background:#94901f"></i><i style="left:1458.2px;width:1.6px;background:#5a4585"></i><i style="left:1459.8px;width:18.2px;background:#4a18d8"></i><i style="left:1478px;width:14.9px;background:#6b3422"></i><i style="left:1492.9px;width:51.6px;background:#b04068"></i><i style="left:1544.5px;width:1.9px;background:#e8580c"></i><i style="left:1546.4px;width:45.1px;background:#8c1a60"></i><i style="left:1591.5px;width:1.9px;background:#6094b4"></i><i style="left:1593.4px;width:19.6px;background:#2e7438"></i><i style="left:1613px;width:1.6px;background:#e8580c"></i><i style="left:1614.6px;width:33.9px;background:#6b3422"></i><i style="left:1648.5px;width:6.5px;background:#b86840"></i><i style="left:1655px;width:9.8px;background:#94901f"></i><i style="left:1664.8px;width:18.2px;background:#8c1a60"></i><i style="left:1683px;width:11.7px;background:#6094b4"></i><i style="left:1694.7px;width:51.3px;background:#8c1a60"></i><i style="left:1746px;width:4.1px;background:#b86840"></i><i style="left:1750.1px;width:8.1px;background:#6b3422"></i><i style="left:1758.2px;width:23.1px;background:#386ecb"></i><i style="left:1781.3px;width:22.5px;background:#6094b4"></i><i style="left:1803.8px;width:10.9px;background:#b86840"></i><i style="left:1814.7px;width:44.3px;background:#6094b4"></i><i style="left:1859px;width:33.1px;background:#94901f"></i><i style="left:1892.1px;width:1.9px;background:#b86840"></i><i style="left:1894px;width:2.2px;background:#e8580c"></i><i style="left:1896.2px;width:5.4px;background:#6b3422"></i><i style="left:1901.6px;width:13px;background:#b04068"></i><i style="left:1914.6px;width:12px;background:#8c1a60"></i><i style="left:1926.6px;width:36.4px;background:#6094b4"></i><b style="left:271.7px">sus...</b><b style="left:326.6px">su...</b><b style="left:440.6px">tra...</b><b style="left:489.5px">tr...</b><b style="left:528.5px">su...</b><b class="k" style="left:623.8px">Stu...</b><b class="k" style="left:1038px">Studi.</b><b style="left:1104.9px">Google...</b><b style="left:1495.6px">CPU...</b><b style="left:1548px">Bin...</b><b style="left:1696.8px">Bin...</b><b class="k" style="left:1816.8px">:...</b><b class="k" style="left:1862.4px">S...</b><b class="k" style="left:1929px">:1...</b></div></div></div>
<div class="row" style="top:597px"><span style="letter-spacing:-.08px">CPU 5</span><div class="trk"><div class="bar"><i style="left:218px;width:5.1px;background:#10a890"></i><i style="left:223.1px;width:7.6px;background:#1a88ff"></i><i style="left:230.7px;width:15px;background:#10a890"></i><i style="left:245.7px;width:78.4px;background:#84bfe0"></i><i style="left:324.1px;width:0.9px;background:#5a18e8"></i><i style="left:325px;width:17.1px;background:#84bfe0"></i><i style="left:342.1px;width:0.8px;background:#5a18e8"></i><i style="left:342.9px;width:20.9px;background:#84bfe0"></i><i style="left:363.8px;width:2.4px;background:#1a88ff"></i><i style="left:366.2px;width:214.5px;background:#5a18e8"></i><i style="left:580.7px;width:55.2px;background:#84bfe0"></i><i style="left:635.9px;width:126.4px;background:#1a88ff"></i><i style="left:762.3px;width:24.7px;background:#10a890"></i><i style="left:787px;width:13.8px;background:#5a18e8"></i><i style="left:800.8px;width:64.1px;background:#84bfe0"></i><i style="left:864.9px;width:37.5px;background:#10a890"></i><i style="left:902.4px;width:1.6px;background:#1a88ff"></i><i style="left:904px;width:2.2px;background:#5a18e8"></i><i style="left:906.2px;width:334.8px;background:#84bfe0"></i><i style="left:1241px;width:1.3px;background:#e8580c"></i><i style="left:1242.3px;width:2.2px;background:#84bfe0"></i><i style="left:1244.5px;width:1.3px;background:#1f5a2c"></i><i style="left:1245.8px;width:25.8px;background:#5a18e8"></i><i style="left:1271.6px;width:9.4px;background:#044a80"></i><i style="left:1281px;width:9px;background:#1a88ff"></i><i style="left:1290px;width:27.7px;background:#5a18e8"></i><i style="left:1317.7px;width:11.4px;background:#84bfe0"></i><i style="left:1329.1px;width:0.8px;background:#3c2a54"></i><i style="left:1329.9px;width:82px;background:#84bfe0"></i><i style="left:1411.9px;width:1.1px;background:#e8580c"></i><i style="left:1413px;width:58.7px;background:#84bfe0"></i><i style="left:1471.7px;width:4.8px;background:#8c1a60"></i><i style="left:1476.5px;width:35.3px;background:#b86840"></i><i style="left:1511.8px;width:23.1px;background:#1a88ff"></i><i style="left:1534.9px;width:7.9px;background:#b86840"></i><i style="left:1542.8px;width:255.3px;background:#84bfe0"></i><i style="left:1798.1px;width:9px;background:#1a88ff"></i><i style="left:1807.1px;width:4.6px;background:#10a890"></i><i style="left:1811.7px;width:33.2px;background:#8c1a60"></i><i style="left:1844.9px;width:4.8px;background:#10a890"></i><i style="left:1849.7px;width:40.5px;background:#1a88ff"></i><i style="left:1890.2px;width:2.9px;background:#10a890"></i><i style="left:1893.1px;width:69.9px;background:#84bfe0"></i><b class="k" style="left:248.4px">Ren...</b><b style="left:368.6px">Binder:..</b><b style="left:433.8px">Binder:1...</b><b style="left:521.7px">B...</b><b class="k" style="left:638px">sf:1935</b><b class="k" style="left:805.9px">Re...</b><b class="k" style="left:908.8px">Re...</b><b class="k" style="left:1015px">RenderThread:2481</b><b class="k" style="left:1332px">RenderT...</b><b style="left:1478.7px">Bi...</b><b class="k" style="left:1545.7px">RenderT...</b><b class="k" style="left:1651.6px">RenderTh...</b><b class="k" style="left:1749.4px">R...</b><b style="left:1814.9px">B...</b><b class="k" style="left:1851.3px">sf:...</b><b class="k" style="left:1895.5px">Rende...</b></div></div></div>
<div class="ln" style="top:642px;background:#35393c"></div>
<div class="ln" style="top:644px;background:#1b1b1c"></div>
<div class="hdr" style="top:646px"><span>Threads (45)</span><svg style="left:172px;top:7.2px" width="22" height="22" viewBox="0 0 22 22"><circle cx="11" cy="11" r="10.5" fill="#2ca4e5"/><rect x="9.45" y="9.2" width="3.1" height="7.4" fill="#323639"/><circle cx="11" cy="6.1" r="1.8" fill="#323639"/></svg><svg class="ic" width="1970" height="37" viewBox="0 0 1970 37"><circle cx="1885" cy="11.7" r="2.3" fill="#d8d8da"/><circle cx="1885" cy="18.3" r="2.3" fill="#d8d8da"/><circle cx="1885" cy="24.9" r="2.3" fill="#d8d8da"/><path d="M1914.3 22 L1921.1 15 L1927.9 22" fill="none" stroke="#d0d0d2" stroke-width="2.3"/></svg></div>
<div class="ln" style="top:683px;background:#1b1b1c"></div>
<div class="ln" style="top:685px;background:#35393c"></div>
<div class="row" style="top:687px;height:147px"><svg style="left:10.5px;top:19px" width="14" height="8" viewBox="0 0 14 8"><path d="M0 0H13L6.5 7.8Z" fill="#c9cacd"/></svg><span style="left:33px">RenderThread</span><div class="trk" style="height:141px">
<div class="st"><i style="left:218px;width:27.8px;background:#5c788e"></i><i style="left:245.8px;width:78px;background:#40f0c0"></i><i style="left:323.8px;width:1.2px;background:#5c788e"></i><i style="left:325px;width:17.1px;background:#40f0c0"></i><i style="left:342.1px;width:268.8px;background:#5c788e"></i><i style="left:610.9px;width:22px;background:#40f0c0"></i><i style="left:632.9px;width:169px;background:#5c788e"></i><i style="left:801.9px;width:52.1px;background:#40f0c0"></i><i style="left:854px;width:52px;background:#5c788e"></i><i style="left:906px;width:334.8px;background:#40f0c0"></i><i style="left:1240.8px;width:76.8px;background:#5c788e"></i><i style="left:1317.6px;width:11.7px;background:#40f0c0"></i><i style="left:1329.3px;width:1px;background:#5c788e"></i><i style="left:1330.3px;width:81.9px;background:#40f0c0"></i><i style="left:1412.2px;width:0.8px;background:#5c788e"></i><i style="left:1413px;width:29.9px;background:#40f0c0"></i><i style="left:1442.9px;width:100px;background:#5c788e"></i><i style="left:1542.9px;width:203.2px;background:#40f0c0"></i><i style="left:1746.1px;width:0.9px;background:#5c788e"></i><i style="left:1747px;width:33.1px;background:#40f0c0"></i><i style="left:1780.1px;width:112.8px;background:#5c788e"></i><i style="left:1892.9px;width:70.1px;background:#40f0c0"></i></div>
<div class="tr" style="top:31px"><i style="left:218px;width:27.1px;background:#12e8d0"></i><i style="left:246.2px;width:94.1px;background:#0d8c78"></i><i style="left:340.3px;width:0.9px;background:#12e8d0"></i><i style="left:610px;width:21px;background:#0d8c78"></i><i style="left:631px;width:1px;background:#12e8d0"></i><i style="left:801px;width:50.5px;background:#0d8c78"></i><i style="left:851.5px;width:0.7px;background:#12e8d0"></i><i style="left:906px;width:84.2px;background:#0d8c78"></i><i style="left:990.2px;width:0.8px;background:#12e8d0"></i><i style="left:991.5px;width:223.1px;background:#0d8c78"></i><i style="left:1215.8px;width:25.2px;background:#0d8c78"></i><i style="left:1241px;width:75px;background:#12e8d0"></i><i style="left:1317.6px;width:93.4px;background:#0d8c78"></i><i style="left:1412.4px;width:29.6px;background:#0d8c78"></i><i style="left:1442px;width:100px;background:#12e8d0"></i><i style="left:1543px;width:83.9px;background:#0d8c78"></i><i style="left:1628px;width:116.5px;background:#0d8c78"></i><i style="left:1744.5px;width:0.8px;background:#12e8d0"></i><i style="left:1746px;width:33px;background:#0d8c78"></i><i style="left:1779px;width:112px;background:#12e8d0"></i><i style="left:1892.5px;width:69.5px;background:#0d8c78"></i><b style="left:248.8px">DrawFrame</b><b style="left:804.6px">Dra...</b><b style="left:908.9px">DrawFra...</b><b style="left:994.9px">DrawFrame</b><b style="left:1218.5px">DrawFrame</b><b style="left:1320.7px">DrawFrame</b><b style="left:1416.2px">DrawFrame</b><b style="left:1545.7px">DrawFra...</b><b style="left:1632.1px">DrawFrame</b><b style="left:1749.9px">DrawFrame</b><b style="left:1895.7px">DrawF...</b></div>
<div class="tr" style="top:50px"><i style="left:218px;width:27.1px;background:#7f1fff"></i><i style="left:247.8px;width:92.5px;background:#4010b0"></i><i style="left:340.3px;width:0.9px;background:#7f1fff"></i><i style="left:610px;width:0.8px;background:#044a80"></i><i style="left:616px;width:15px;background:#4010b0"></i><i style="left:801px;width:1px;background:#386ecb"></i><i style="left:802.2px;width:3px;background:#203c78"></i><i style="left:808px;width:43.5px;background:#4010b0"></i><i style="left:851.5px;width:0.7px;background:#7f1fff"></i><i style="left:909px;width:81px;background:#4010b0"></i><i style="left:990px;width:1px;background:#7f1fff"></i><i style="left:991.5px;width:7.2px;background:#203c78"></i><i style="left:1187px;width:26.4px;background:#4010b0"></i><i style="left:1213.4px;width:1.2px;background:#7f1fff"></i><i style="left:1230px;width:11px;background:#4010b0"></i><i style="left:1241px;width:75px;background:#7f1fff"></i><i style="left:1329px;width:82px;background:#4010b0"></i><i style="left:1412px;width:1px;background:#044a80"></i><i style="left:1417px;width:25px;background:#4010b0"></i><i style="left:1442px;width:100px;background:#7f1fff"></i><i style="left:1543px;width:1px;background:#044a80"></i><i style="left:1553px;width:73.9px;background:#4010b0"></i><i style="left:1628px;width:1px;background:#044a80"></i><i style="left:1656px;width:88.5px;background:#4010b0"></i><i style="left:1744.5px;width:0.8px;background:#7f1fff"></i><i style="left:1746px;width:1px;background:#044a80"></i><i style="left:1756px;width:23px;background:#4010b0"></i><i style="left:1779px;width:112px;background:#7f1fff"></i><i style="left:1896px;width:66px;background:#4010b0"></i><b style="left:250.6px">eglSwap...</b><b style="left:811.6px">eg...</b><b style="left:911.7px">eglSwa...</b><b style="left:1232.6px">eglSwap...</b><b style="left:1331.7px">eglSwa...</b><b style="left:1419.6px">eglSwapBuffe...</b><b style="left:1555.4px">eglSw...</b><b style="left:1658.8px">eglSwap...</b><b style="left:1758.4px">eglSwapBuffer...</b><b style="left:1898.8px">eglS...</b></div>
<div class="tr" style="top:69px"><i style="left:218px;width:27.1px;background:#bdf8fc"></i><i style="left:341px;width:1px;background:#0848d0"></i><i style="left:852px;width:1px;background:#0848d0"></i><i style="left:991.5px;width:1px;background:#d05010"></i><i style="left:1215px;width:1px;background:#0848d0"></i><i style="left:1241px;width:75px;background:#bdf8fc"></i><i style="left:1412px;width:1px;background:#cccccc"></i><i style="left:1442px;width:100px;background:#bdf8fc"></i><i style="left:1628px;width:1px;background:#bdf8fc"></i><i style="left:1779px;width:112px;background:#bdf8fc"></i><b class="k" style="left:1243.8px">deque...</b><b class="k" style="left:1444.8px">dequeueB...</b><b class="k" style="left:1781.9px">dequeueBu...</b></div>
<div class="tr" style="top:88px"><i style="left:991px;width:0.9px;background:#8a7a30"></i></div>
</div></div>
<div class="row" style="top:834px;height:154px"><svg style="left:10.5px;top:19px" width="14" height="8" viewBox="0 0 14 8"><path d="M0 0H13L6.5 7.8Z" fill="#c9cacd"/></svg><span style="left:33px;top:-.3px;letter-spacing:.04px">.apps.sunflower</span><div class="trk" style="height:151px">
<div class="st" style="background:#5c788e"><i style="left:572px;width:10px;background:#40f0c0"></i><i style="left:605.9px;width:5.3px;background:#40f0c0"></i><i style="left:686px;width:2px;background:#40f0c0"></i><i style="left:758px;width:2px;background:#40f0c0"></i><i style="left:799px;width:3px;background:#40f0c0"></i><i style="left:902px;width:4px;background:#40f0c0"></i><i style="left:962px;width:3px;background:#40f0c0"></i><i style="left:995px;width:1px;background:#40f0c0"></i><i style="left:1019px;width:3px;background:#40f0c0"></i><i style="left:1218.1px;width:1.6px;background:#40f0c0"></i><i style="left:1319px;width:1.7px;background:#40f0c0"></i><i style="left:1415.2px;width:1.6px;background:#40f0c0"></i><i style="left:1544.3px;width:1.6px;background:#40f0c0"></i><i style="left:1649px;width:6.2px;background:#40f0c0"></i><i style="left:1746.9px;width:3px;background:#40f0c0"></i><i style="left:1894.1px;width:1.6px;background:#40f0c0"></i></div>
<div class="tr" style="top:31px"><i style="left:218px;width:28px;background:#0898e0"></i><i style="left:605.1px;width:4.8px;background:#044a80"></i><i style="left:800px;width:1px;background:#0898e0"></i><i style="left:902.3px;width:2.4px;background:#044a80"></i><i style="left:963.6px;width:30.1px;background:#0898e0"></i><i style="left:1019.4px;width:196.3px;background:#045a98"></i><i style="left:1218.5px;width:98.5px;background:#0898e0"></i><i style="left:1320px;width:92px;background:#0898e0"></i><i style="left:1415.8px;width:126.1px;background:#0898e0"></i><i style="left:1544.7px;width:102.3px;background:#0898e0"></i><i style="left:1649px;width:4.8px;background:#045a98"></i><i style="left:1653.8px;width:92.1px;background:#0898e0"></i><i style="left:1748.5px;width:143.6px;background:#0898e0"></i><i style="left:1894.7px;width:67.4px;background:#0898e0"></i><b style="left:965.4px">C...</b><b style="left:1021.8px">Choreographer#doFra...</b><b style="left:1220.9px">Choreogra...</b><b style="left:1322.7px">Choreogr...</b><b style="left:1418.2px">Choreograph...</b><b style="left:1546.9px">Choreogra...</b><b style="left:1650.8px">Choreogr...</b><b style="left:1750.3px">Choreographer...</b><b style="left:1897.1px">Chore...</b></div>
<div class="tr" style="top:50px"><i style="left:218px;width:27px;background:#ff48e8"></i><i style="left:605.1px;width:4.8px;background:#e030a8"></i><i style="left:902.3px;width:1.7px;background:#8040c0"></i><i style="left:904px;width:0.7px;background:#e030a8"></i><i style="left:963.6px;width:29.5px;background:#ff48e8"></i><i style="left:1020.3px;width:195.4px;background:#ff48e8"></i><i style="left:1218.5px;width:98.5px;background:#ff48e8"></i><i style="left:1320px;width:92px;background:#ff48e8"></i><i style="left:1415.8px;width:126.1px;background:#ff48e8"></i><i style="left:1544.7px;width:102.3px;background:#ff48e8"></i><i style="left:1650px;width:3.8px;background:#d030a0"></i><i style="left:1653.8px;width:92.1px;background:#ff48e8"></i><i style="left:1748.5px;width:143.6px;background:#ff48e8"></i><i style="left:1894.7px;width:67.4px;background:#ff48e8"></i><b style="left:220.7px">t...</b><b style="left:966px">t...</b><b style="left:1023.3px">traversal</b><b style="left:1220.9px">traversal</b><b style="left:1322.7px">traversal</b><b style="left:1418.2px">traversal</b><b style="left:1546.9px">traversal</b><b style="left:1654.2px">traversal</b><b style="left:1750.3px">traversal</b><b style="left:1897.1px">traver...</b></div>
<div class="tr" style="top:69px"><i style="left:218px;width:27px;background:#c8a0f8"></i><i style="left:605.7px;width:2.3px;background:#7a50a8"></i><i style="left:608px;width:1.9px;background:#c8a0f8"></i><i style="left:964.2px;width:28.9px;background:#c8a0f8"></i><i style="left:1020.9px;width:194.8px;background:#c8a0f8"></i><i style="left:1218.5px;width:98.5px;background:#c8a0f8"></i><i style="left:1320px;width:92px;background:#c8a0f8"></i><i style="left:1415.8px;width:126.1px;background:#c8a0f8"></i><i style="left:1544.7px;width:102.3px;background:#c8a0f8"></i><i style="left:1653.8px;width:92.1px;background:#c8a0f8"></i><i style="left:1748.5px;width:143.6px;background:#c8a0f8"></i><i style="left:1894.7px;width:67.4px;background:#c8a0f8"></i><b style="left:1023.9px">draw</b><b style="left:1221.4px">draw</b><b style="left:1322.9px">draw</b><b style="left:1418.4px">draw</b><b style="left:1547.4px">draw</b><b style="left:1655.8px">draw</b><b style="left:1750.9px">draw</b><b style="left:1897.4px">draw</b></div>
<div class="tr" style="top:107px"><i style="left:1653px;width:0.9px;background:#6a4a90"></i></div>
</div></div>
<div class="ax" style="left:0;top:988px;width:1985px;height:25px;background:#1e1e1f;border-top:1px solid #2c2e31">
<i style="left:216.7px;width:1.2px;height:11px;background:#6e6f72"></i>
<b style="left:222.4px;top:3px">00.000</b>
<i style="left:320.2px;width:1px;height:5px;background:#6e6f72"></i>
<i style="left:423.4px;width:1.2px;height:11px;background:#6e6f72"></i>
<b style="left:429.2px;top:3px">00.100</b>
<i style="left:526.9px;width:1px;height:5px;background:#6e6f72"></i>
<i style="left:630.2px;width:1.2px;height:11px;background:#6e6f72"></i>
<b style="left:635.9px;top:3px">00.200</b>
<i style="left:733.7px;width:1px;height:5px;background:#6e6f72"></i>
<i style="left:836.9px;width:1.2px;height:11px;background:#6e6f72"></i>
<b style="left:842.6px;top:3px">00.300</b>
<i style="left:940.4px;width:1px;height:5px;background:#6e6f72"></i>
<i style="left:1043.7px;width:1.2px;height:11px;background:#6e6f72"></i>
<b style="left:1049.4px;top:3px">00.400</b>
<i style="left:1147.2px;width:1px;height:5px;background:#6e6f72"></i>
<i style="left:1250.5px;width:1.2px;height:11px;background:#6e6f72"></i>
<b style="left:1256.1px;top:3px">00.500</b>
<i style="left:1353.9px;width:1px;height:5px;background:#6e6f72"></i>
<i style="left:1457.2px;width:1.2px;height:11px;background:#6e6f72"></i>
<b style="left:1462.9px;top:3px">00.600</b>
<i style="left:1560.7px;width:1px;height:5px;background:#6e6f72"></i>
<i style="left:1664px;width:1.2px;height:11px;background:#6e6f72"></i>
<b style="left:1669.6px;top:3px">00.700</b>
<i style="left:1767.4px;width:1px;height:5px;background:#6e6f72"></i>
<i style="left:1870.7px;width:1.2px;height:11px;background:#6e6f72"></i>
<b style="left:1876.4px;top:3px">00.800</b>
<i style="left:1974.2px;width:1px;height:5px;background:#6e6f72"></i>
</div>
<div style="left:0;top:1012.5px;width:1985px;height:4.5px;background:#323639"></div>
<div class="tip">
<span style="top:17.3px;font-size:19.0px">00:19.205</span>
<span style="top:50.6px">Total Time: 13.63 ms</span>
<span style="top:84.5px;letter-spacing:-0.27px">Main Thread</span>
<span style="top:112.4px;letter-spacing:-0.11px">CPU Time: 2.55 ms</span>
<span style="top:140.6px;letter-spacing:-0.07px">Wall Time: 2.78 ms</span>
<span style="top:174.5px;letter-spacing:-0.3px">RenderThread</span>
<span style="top:202.4px;letter-spacing:-0.14px">CPU Time: 10.59 ms</span>
<span style="top:230.6px;letter-spacing:-0.08px">Wall Time: 10.85 ms</span>
</div>
</body></html>
